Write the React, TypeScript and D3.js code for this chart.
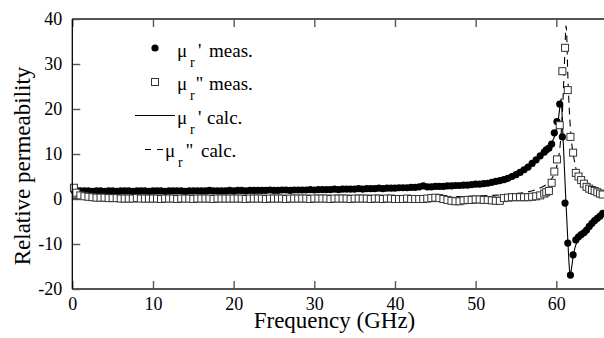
import React, { useRef, useEffect } from "react";
import * as d3 from "d3";

// measured points, frequency in GHz
const measFreq = [
  0.2,
  0.5, 1, 1.5, 2, 2.5, 3, 3.5, 4, 4.5, 5, 5.5, 6, 6.5, 7, 7.5, 8, 8.5, 9, 9.5, 10,
  10.5, 11, 11.5, 12, 12.5, 13, 13.5, 14, 14.5, 15, 15.5, 16, 16.5, 17, 17.5, 18, 18.5, 19, 19.5, 20,
  20.5, 21, 21.5, 22, 22.5, 23, 23.5, 24, 24.5, 25, 25.5, 26, 26.5, 27, 27.5, 28, 28.5, 29, 29.5, 30,
  30.5, 31, 31.5, 32, 32.5, 33, 33.5, 34, 34.5, 35, 35.5, 36, 36.5, 37, 37.5, 38, 38.5, 39, 39.5, 40,
  40.5, 41, 41.5, 42, 42.5, 43, 43.5, 44, 44.5, 45, 45.5, 46, 46.5, 47, 47.5, 48, 48.5, 49, 49.5, 50,
  50.5, 51, 51.5, 52, 52.5, 53, 53.5, 54, 54.5, 55, 55.5, 56, 56.5, 57, 57.5, 58, 58.5,
  58.75, 59.08, 59.42, 59.75, 60.08, 60.42, 60.75, 61.08, 61.42, 61.75, 62.08,
  62.42, 62.75, 63.08, 63.42, 63.75, 64.08, 64.42, 64.75, 65.08, 65.42, 65.75,
];

// mu_r' measured
const muRealMeas = [
  1.9,
  1.9, 1.8, 1.8, 1.8, 1.7, 1.8, 1.8, 1.7, 1.8, 1.8, 1.7, 1.8, 1.8, 1.8, 1.7, 1.8, 1.8, 1.8, 1.7, 1.8,
  1.8, 1.8, 1.7, 1.8, 1.8, 1.8, 1.8, 1.7, 1.8, 1.8, 1.8, 1.8, 1.8, 1.9, 1.8, 1.8, 1.8, 1.8, 1.9, 1.8,
  1.9, 1.9, 1.8, 1.9, 1.9, 1.9, 1.9, 1.9, 2.0, 1.9, 1.9, 2.0, 2.0, 1.9, 2.0, 2.0, 2.0, 2.0, 2.1, 2.0,
  2.1, 2.1, 2.1, 2.1, 2.2, 2.1, 2.2, 2.2, 2.2, 2.2, 2.3, 2.2, 2.3, 2.3, 2.3, 2.4, 2.3, 2.4, 2.4, 2.4,
  2.5, 2.5, 2.5, 2.6, 2.6, 2.7, 2.9, 2.7, 2.7, 2.8, 2.8, 2.8, 2.9, 2.9, 3.0, 3.0, 3.1, 3.1, 3.2, 3.3,
  3.3, 3.4, 3.5, 3.7, 3.9, 4.1, 4.3, 4.6, 5.0, 5.4, 5.9, 6.5, 7.1, 7.9, 8.7, 9.6, 10.4,
  10.9, 11.3, 12.2, 14.7, 17.2, 21.1, 13.8, -0.9, -9.8, -16.9, -12.4,
  -9.1, -8.4, -7.9, -7.5, -6.9, -6.1, -5.4, -4.8, -4.3, -3.8, -3.2,
];

// mu_r'' measured
const muImagMeas = [
  2.5,
  1.4, 0.8, 0.6, 0.5, 0.4, 0.3, 0.3, 0.3, 0.2, 0.2, 0.2, 0.1, 0.1, 0.1, 0.1, 0.2, 0.1, 0.1, 0.1, 0.1,
  0.1, 0.0, 0.1, 0.1, 0.1, 0.0, 0.1, 0.1, 0.1, 0.0, 0.1, 0.1, 0.1, 0.1, 0.0, 0.1, 0.1, 0.1, 0.1, 0.1,
  0.1, 0.1, 0.0, 0.1, 0.1, 0.1, 0.1, 0.0, 0.1, 0.1, 0.1, 0.1, 0.0, 0.1, 0.1, 0.1, 0.1, 0.1, 0.0, 0.1,
  0.1, 0.1, 0.1, 0.0, 0.1, 0.1, 0.1, 0.1, 0.0, 0.1, 0.1, 0.1, 0.1, 0.0, 0.1, 0.1, 0.0, 0.1, 0.1, 0.0,
  0.0, 0.0, 0.1, 0.0, 0.0, 0.0, 0.0, 0.1, 0.2, 0.3, 0.2, 0.0, -0.2, -0.4, -0.5, -0.5, -0.3, -0.2, -0.2, -0.1,
  -0.1, -0.2, -0.2, -0.3, -0.4, -0.4, 0.2, 0.3, 0.4, 0.4, 0.4, 0.4, 0.4, 0.5, 0.6, 0.8, 1.2,
  1.5, 1.8, 3.6, 6.1, 8.8, 16.4, 28.4, 33.6, 24.2, 13.8, 10.3,
  5.8, 5.0, 4.2, 3.4, 2.7, 2.3, 2.0, 1.8, 1.5, 1.2, 1.0,
];

// calculated curves
const calcRealFreq = [
  0, 10, 20, 30, 40, 45, 50, 52, 54, 55, 56, 57, 58, 58.8, 59.4, 59.9, 60.2, 60.4,
  60.6, 60.8, 61.0, 61.2, 61.45, 61.6, 61.73, 61.9, 62.1, 62.4, 62.8, 63.3, 64, 64.5, 65, 65.5, 66,
];
const muRealCalc = [
  1.8, 1.8, 1.8, 2.0, 2.3, 2.7, 3.2, 3.7, 4.6, 5.4, 6.5, 7.9, 9.6, 11.0, 12.4, 14.6, 17, 19.8,
  22.3, 15, 7, -1, -10, -15, -17, -15.2, -12.6, -10.3, -8.7, -7.6, -6.2, -5.3, -4.6, -3.9, -3.3,
];
const calcImagFreq = [
  0, 10, 20, 30, 40, 45, 50, 53, 55, 56.5, 57.5, 58.3, 59, 59.5, 59.9, 60.2, 60.45, 60.65,
  60.85, 61.0, 61.1, 61.2, 61.3, 61.4, 61.55, 61.7, 61.9, 62.1, 62.4, 62.8, 63.3, 64, 64.8, 65.5, 66,
];
const muImagCalc = [
  0.2, 0.2, 0.2, 0.25, 0.35, 0.45, 0.65, 0.9, 1.2, 1.6, 2.1, 2.7, 3.6, 4.7, 6.3, 8.5, 11.5, 16,
  23, 30, 35, 38.5, 36, 29, 22, 17, 12.5, 10, 7, 5, 3.8, 2.8, 2.2, 1.8, 1.6,
];

const xTicks = [0, 10, 20, 30, 40, 50, 60];
const yTicks = [-20, -10, 0, 10, 20, 30, 40];

const FONT = "Liberation Serif, Tinos, Times New Roman, DejaVu Serif, serif";

export default function App() {
  const svgRef = useRef<SVGSVGElement>(null);

  useEffect(() => {
    if (!svgRef.current) return;
    const svg = d3.select(svgRef.current);
    svg.selectAll("*").remove();

    const left = 72.3, top = 19, bottom = 289;
    const x = d3.scaleLinear().domain([0, 66]).range([left, left + 66 * 8.067]);
    const y = d3.scaleLinear().domain([-20, 40]).range([bottom, top]);

    const g = svg.append("g").attr("font-family", FONT);

    // calc lines (under markers)
    const realPts = calcRealFreq.map((f, i) => [f, muRealCalc[i]] as [number, number]);
    const imagPts = calcImagFreq.map((f, i) => [f, muImagCalc[i]] as [number, number]);
    const line = d3.line<[number, number]>()
      .x(d => x(d[0]))
      .y(d => y(d[1]))
      .curve(d3.curveMonotoneX);

    g.append("path")
      .datum(imagPts)
      .attr("fill", "none")
      .attr("stroke", "#000")
      .attr("stroke-width", 1.1)
      .attr("stroke-dasharray", "7,5")
      .attr("d", line);

    g.append("path")
      .datum(realPts)
      .attr("fill", "none")
      .attr("stroke", "#000")
      .attr("stroke-width", 1.1)
      .attr("d", line);

    // measured mu'
    g.append("g")
      .selectAll("circle")
      .data(measFreq)
      .join("circle")
      .attr("cx", d => x(d))
      .attr("cy", (d, i) => y(muRealMeas[i]))
      .attr("r", 3.6)
      .attr("fill", "#000");

    // measured mu''
    g.append("g")
      .selectAll("rect")
      .data(measFreq)
      .join("rect")
      .attr("x", d => x(d) - 3.5)
      .attr("y", (d, i) => y(muImagMeas[i]) - 3.5)
      .attr("width", 7)
      .attr("height", 7)
      .attr("fill", "#fff")
      .attr("stroke", "#333")
      .attr("stroke-width", 1);

    // axes
    const xAxis = g.append("g")
      .attr("transform", `translate(0,${bottom})`)
      .call(d3.axisBottom(x).tickValues(xTicks).tickSizeInner(-8).tickSizeOuter(0).tickPadding(8));
    const xTop = g.append("g")
      .attr("transform", `translate(0,${top})`)
      .call(d3.axisTop(x).tickValues(xTicks).tickSizeInner(-8).tickSizeOuter(0).tickFormat(() => ""));
    const yAxis = g.append("g")
      .attr("transform", `translate(${left},0)`)
      .call(d3.axisLeft(y).tickValues(yTicks).tickSizeInner(-8).tickSizeOuter(0).tickPadding(10)
        .tickFormat(d => `${d}`));

    [xAxis, xTop, yAxis].forEach(a => {
      a.attr("font-family", FONT).attr("font-size", 18);
      a.select(".domain").remove();
      a.selectAll("line").attr("stroke", "#555").attr("stroke-width", 1.4);
      a.selectAll("text").attr("fill", "#000");
    });

    // frame
    g.append("line")
      .attr("x1", left).attr("x2", 604).attr("y1", top).attr("y2", top)
      .attr("stroke", "#555").attr("stroke-width", 1.8);
    g.append("line")
      .attr("x1", left).attr("x2", 604).attr("y1", bottom).attr("y2", bottom)
      .attr("stroke", "#555").attr("stroke-width", 1.8);
    g.append("line")
      .attr("x1", left).attr("x2", left).attr("y1", top).attr("y2", bottom)
      .attr("stroke", "#000").attr("stroke-width", 1.3);

    // axis titles
    g.append("text")
      .attr("x", 334.5)
      .attr("y", 328)
      .attr("text-anchor", "middle")
      .attr("font-size", 23)
      .text("Frequency (GHz)");

    g.append("text")
      .attr("transform", "translate(29.5,166) rotate(-90)")
      .attr("text-anchor", "middle")
      .attr("font-size", 23)
      .text("Relative permeability");

    // legend
    const legend = g.append("g");
    const rows = [
      { base: 57, mu: 177, prime: "'", primeX: 198, word: "meas.", wordX: 209 },
      { base: 90, mu: 177, prime: "''", primeX: 196, word: "meas.", wordX: 209 },
      { base: 124, mu: 177, prime: "'", primeX: 198, word: "calc.", wordX: 207 },
      { base: 157, mu: 165, prime: "''", primeX: 186, word: "calc.", wordX: 201 },
    ];
    rows.forEach(r => {
      const t = (tx: number, ty: number, s: string, size: number) =>
        legend.append("text")
          .attr("x", tx).attr("y", ty)
          .attr("font-size", size)
          .text(s);
      t(r.mu, r.base, "μ", 19);
      t(r.mu + 13, r.base + 10, "r", 14);
      t(r.primeX, r.base, r.prime, 19);
      t(r.wordX, r.base, r.word, 19);
    });
    legend.append("circle").attr("cx", 155).attr("cy", 48).attr("r", 3.6).attr("fill", "#000");
    legend.append("rect").attr("x", 151.5).attr("y", 78.5).attr("width", 7).attr("height", 7)
      .attr("fill", "#fff").attr("stroke", "#333");
    legend.append("line").attr("x1", 135).attr("x2", 175).attr("y1", 115.5).attr("y2", 115.5)
      .attr("stroke", "#000").attr("stroke-width", 1.1);
    legend.append("line").attr("x1", 145).attr("x2", 164).attr("y1", 149.5).attr("y2", 149.5)
      .attr("stroke", "#000").attr("stroke-width", 1.1).attr("stroke-dasharray", "6,6");
  }, []);

  return (
    <svg
      ref={svgRef}
      width={604}
      height={338}
      style={{ position: "absolute", left: 0, top: 0, background: "#fff" }}
    />
  );
}
